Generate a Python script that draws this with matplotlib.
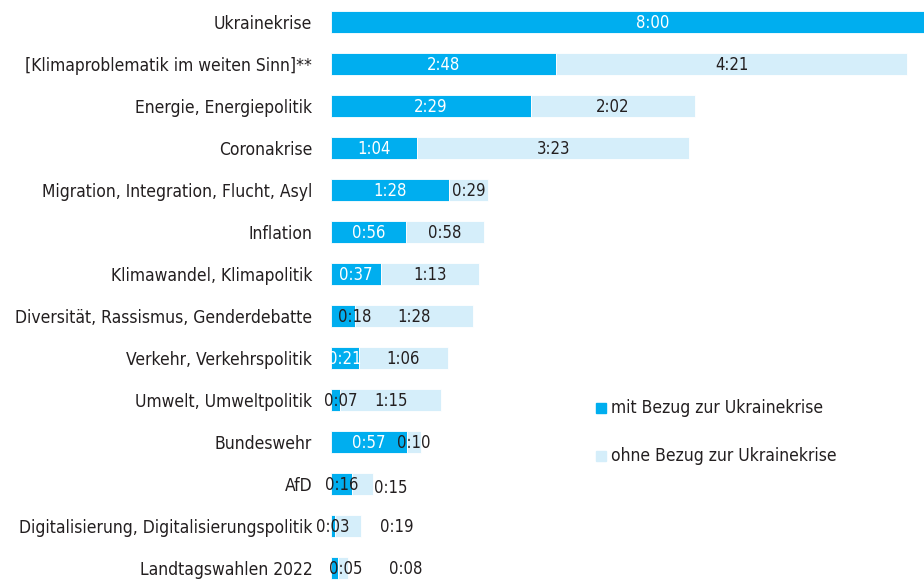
import matplotlib
matplotlib.use("Agg")
import matplotlib.pyplot as plt
from matplotlib.patches import Rectangle

plt.rcParams['font.family'] = ['DejaVu Sans']
plt.rcParams['font.stretch'] = 'condensed'

themes = ['Ukrainekrise', '[Klimaproblematik im weiten Sinn]**', 'Energie, Energiepolitik',
          'Coronakrise', 'Migration, Integration, Flucht, Asyl', 'Inflation',
          'Klimawandel, Klimapolitik', 'Diversität, Rassismus, Genderdebatte',
          'Verkehr, Verkehrspolitik', 'Umwelt, Umweltpolitik', 'Bundeswehr', 'AfD',
          'Digitalisierung, Digitalisierungspolitik', 'Landtagswahlen 2022']
# minutes
with_ukr = [480, 168, 149, 64, 88, 56, 37, 18, 21, 7, 57, 16, 3, 5]
without_ukr = [0, 261, 122, 203, 29, 58, 73, 88, 66, 75, 10, 15, 19, 8]

DARK = '#00aeef'
LIGHT = '#d5eefa'
TXT = '#231f20'

# label nudges in pixels: (row, segment) -> (dx, dy)
nudge = {(7, 0): (12, 0), (9, 0): (5, 0), (13, 0): (11, 0),
         (11, 1): (28, -3), (12, 1): (49, 0), (13, 1): (63, 0)}


def fmt(m):
    return '%d:%02d' % (m // 60, m % 60)


fig = plt.figure(figsize=(9.24, 5.8), dpi=100)
ax = fig.add_axes([331 / 924, 0, (924 - 331) / 924, 1])

y = list(range(len(themes)))
ax.barh(y, with_ukr, height=0.524, color=DARK, edgecolor='white', linewidth=0.6)
ax.barh(y, without_ukr, left=with_ukr, height=0.524, color=LIGHT, edgecolor='white', linewidth=0.6)

for i in y:
    segs = [(0, with_ukr[i]), (with_ukr[i], without_ukr[i])]
    for s, (start, w) in enumerate(segs):
        if w == 0:
            continue
        col = TXT
        if s == 0 and w >= 20:
            col = 'white'
        dx, dy = nudge.get((i, s), (0, 0))
        ax.annotate(fmt(w), (start + w / 2, i), xytext=(dx, dy - 1), textcoords='offset pixels',
                    ha='center', va='center', fontsize=12, color=col)

ax.set_xlim(0, (924 - 331) / 1.342)
ax.set_ylim(13 + 12 / 42, -22 / 42)
ax.set_yticks(y)
ax.set_yticklabels(themes, fontsize=12.5, color=TXT)
ax.tick_params(axis='y', length=0, pad=13.5)
ax.set_xticks([])
for sp in ax.spines.values():
    sp.set_visible(False)

# legend
for k, (c, lab) in enumerate([(DARK, 'mit Bezug zur Ukrainekrise'), (LIGHT, 'ohne Bezug zur Ukrainekrise')]):
    yc = 408 + k * 48
    fig.add_artist(Rectangle((596 / 924, 1 - (yc + 5) / 580), 10 / 924, 10 / 580,
                             transform=fig.transFigure, color=c))
    fig.text(611 / 924, 1 - yc / 580, lab, fontsize=12.5, color=TXT, va='center', ha='left')

fig.savefig('out.png', dpi=100)
